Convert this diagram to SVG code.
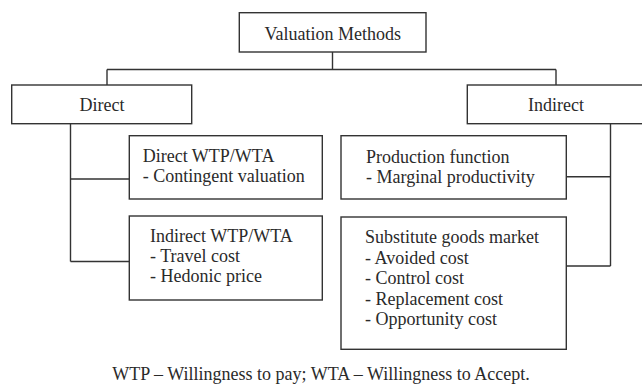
<svg xmlns="http://www.w3.org/2000/svg" width="642" height="384" viewBox="0 0 642 384">
<style>
.box{fill:#fff;stroke:#333;stroke-width:1.4}
.ln{fill:none;stroke:#333;stroke-width:1.4}
text{font-family:"Liberation Serif","Times New Roman",serif;font-size:18px;fill:#2a2a2a}
.c{text-anchor:middle}
</style>
<rect width="642" height="384" fill="#fff"/>
<g id="connectors">
<path class="ln" d="M332.5 52V69.5M107 69.5H556M107 69.5V85M556 69.5V85"/>
<path class="ln" d="M70.5 123.7V261.5M70.5 179H129.5M70.5 261.5H129.5"/>
<path class="ln" d="M610.5 123.7V266M566.3 176.7H610.5M566.3 266H610.5"/>
</g>
<g id="valuation-methods">
<rect class="box" x="239.3" y="12.7" width="186.7" height="39.3"/>
<text class="c" x="332.7" y="40">Valuation Methods</text>
</g>
<g id="direct">
<rect class="box" x="11.7" y="85" width="180" height="38.7"/>
<text class="c" x="102" y="110.7">Direct</text>
</g>
<g id="indirect">
<rect class="box" x="467.3" y="85" width="180" height="38.7"/>
<text class="c" x="556" y="110.7">Indirect</text>
</g>
<g id="direct-wtp">
<rect class="box" x="129.3" y="135.7" width="193" height="63.3"/>
<text x="142.7" y="161.7">Direct WTP/WTA</text>
<text x="142.7" y="181.7">- Contingent valuation</text>
</g>
<g id="indirect-wtp">
<rect class="box" x="129.3" y="216" width="193" height="84"/>
<text x="150" y="241.7">Indirect WTP/WTA</text>
<text x="150" y="261.7">- Travel cost</text>
<text x="150" y="281.7">- Hedonic price</text>
</g>
<g id="production-function">
<rect class="box" x="341" y="135.7" width="225.3" height="63.3"/>
<text x="366" y="162.7">Production function</text>
<text x="366" y="182.7">- Marginal productivity</text>
</g>
<g id="substitute-goods">
<rect class="box" x="341" y="217" width="225.3" height="132.3"/>
<text x="365" y="243.3">Substitute goods market</text>
<text x="365" y="263.7">- Avoided cost</text>
<text x="365" y="284.1">- Control cost</text>
<text x="365" y="304.5">- Replacement cost</text>
<text x="365" y="325">- Opportunity cost</text>
</g>
<text class="c" x="321" y="380">WTP – Willingness to pay; WTA – Willingness to Accept.</text>
</svg>
